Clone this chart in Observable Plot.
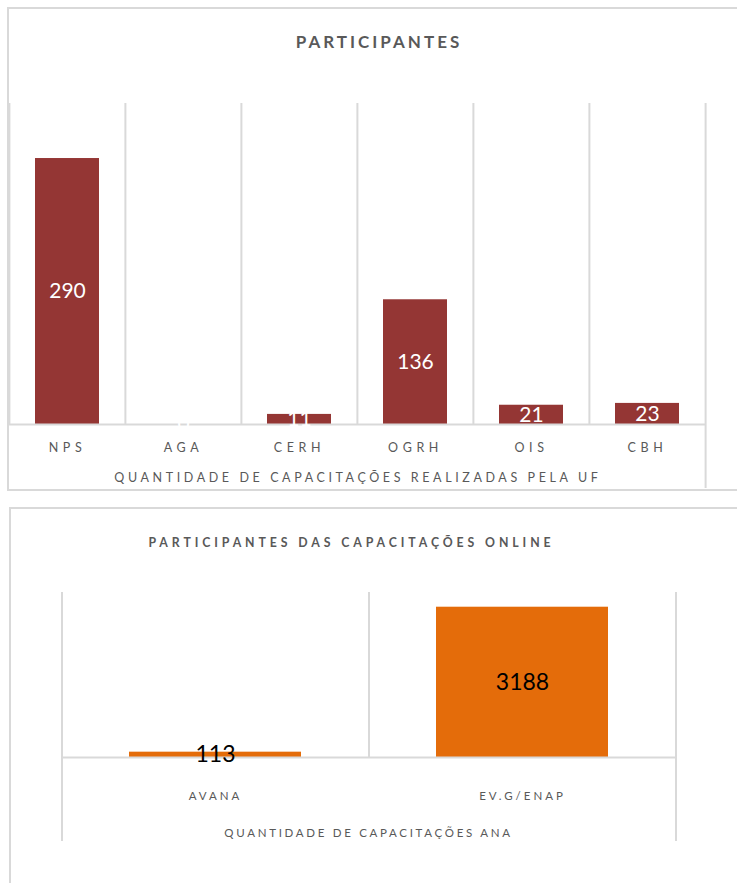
<!DOCTYPE html>
<html>
<head>
<meta charset="utf-8">
<script src="https://cdn.jsdelivr.net/npm/d3@7"></script>
<script src="https://cdn.jsdelivr.net/npm/@observablehq/plot@0.6"></script>
<style>
  html, body { margin: 0; padding: 0; background: #fff; overflow: hidden; width: 737px; height: 883px; }
  body { position: relative; font-family: Lato, "Open Sans", sans-serif; }
  .panel { position: absolute; border: 2px solid #d9d9d9; box-sizing: border-box; }
  .title { position: absolute; text-align: center; color: #595959; font-weight: bold; white-space: nowrap; }
  .chart { position: absolute; left: 0; }
  svg { font-family: Lato, "Open Sans", sans-serif; overflow: visible; }
</style>
</head>
<body>
<div class="panel" style="left:7px; top:7px; width:800px; height:484px;"></div>
<div class="panel" style="left:9px; top:507px; width:800px; height:420px;"></div>
<div class="title" id="t1" style="left:0; width:758px; top:31px; font-size:17px; line-height:22px; letter-spacing:3px;"></div>
<div class="title" id="t2" style="left:0; width:703px; top:535px; font-size:12.3px; line-height:16px; letter-spacing:3.9px;"></div>
<div class="chart" id="c1" style="top:0;"></div>
<div class="chart" id="c2" style="top:500px;"></div>
<script>
// ---- data ----
const title1 = "PARTICIPANTES";
const axisTitle1 = "QUANTIDADE DE CAPACITAÇÕES REALIZADAS PELA UF";
const cats1 = ["NPS", "AGA", "CERH", "OGRH", "OIS", "CBH"];
const vals1 = [290, 0, 11, 136, 21, 23];

const title2 = "PARTICIPANTES DAS CAPACITAÇÕES ONLINE";
const axisTitle2 = "QUANTIDADE DE CAPACITAÇÕES ANA";
const cats2 = ["AVANA", "EV.G/ENAP"];
const vals2 = [113, 3188];

const data1 = cats1.map((c, i) => ({cat: c, v: vals1[i]}));
const data2 = cats2.map((c, i) => ({cat: c, v: vals2[i]}));

document.getElementById("t1").textContent = title1;
document.getElementById("t2").textContent = title2;

const W = 737;
const GRID = "#d9d9d9";
const TXT = "#595959";

function spacing(svg, tickPx, titlePx) {
  d3.select(svg).selectAll('g[aria-label="x-axis tick label"] text').attr("letter-spacing", tickPx + "px");
  d3.select(svg).selectAll('g[aria-description="axis-title"] text').attr("letter-spacing", titlePx + "px");
}

// ---- chart 1 ----
{
  const mL = 8.7, mR = 31, mT = 103, mB = 76, H = 500;
  const yMax = 350;
  const step = (W - mL - mR) / cats1.length;
  const p = Plot.plot({
    width: W, height: H,
    marginLeft: mL, marginRight: mR, marginTop: mT, marginBottom: mB,
    x: {domain: cats1, paddingInner: 0.45, paddingOuter: 0.225, axis: null},
    y: {domain: [0, yMax], axis: null},
    marks: [
      Plot.ruleX(cats1, {x: d => d, y1: yMax, y2: 0, dx: -step / 2, stroke: GRID, strokeWidth: 2}),
      Plot.ruleX([cats1[cats1.length - 1]], {x: d => d, y1: yMax, y2: 0, dx: step / 2, insetBottom: -64, stroke: GRID, strokeWidth: 2}),
      Plot.barY(data1, {x: "cat", y: "v", fill: "#943634"}),
      Plot.ruleY([0], {stroke: GRID, strokeWidth: 2}),
      Plot.axisX({tickSize: 0, tickPadding: 19, fontSize: 12.5, color: TXT, label: null}),
      Plot.text(data1, {x: "cat", y: d => d.v / 2, text: d => String(d.v), fill: "white", fontSize: 21}),
      Plot.text([axisTitle1], {frameAnchor: "bottom", dy: 57, text: d => d, fill: TXT, fontSize: 12.5, ariaDescription: "axis-title"})
    ]
  });
  spacing(p, 4.6, 3.6);
  document.getElementById("c1").appendChild(p);
}

// ---- chart 2 ----
{
  const mL = 61, mR = 62, mT = 92, mB = 126, H = 383;
  const yMax = 3500;
  const step = (W - mL - mR) / cats2.length;
  const p = Plot.plot({
    width: W, height: H,
    marginLeft: mL, marginRight: mR, marginTop: mT, marginBottom: mB,
    x: {domain: cats2, paddingInner: 0.44, paddingOuter: 0.22, axis: null},
    y: {domain: [0, yMax], axis: null},
    marks: [
      Plot.ruleX([cats2[0]], {x: d => d, y1: yMax, y2: 0, dx: -step / 2, insetBottom: -84, stroke: GRID, strokeWidth: 2}),
      Plot.ruleX(cats2.slice(1), {x: d => d, y1: yMax, y2: 0, dx: -step / 2, stroke: GRID, strokeWidth: 2}),
      Plot.ruleX([cats2[cats2.length - 1]], {x: d => d, y1: yMax, y2: 0, dx: step / 2, insetBottom: -84, stroke: GRID, strokeWidth: 2}),
      Plot.barY(data2, {x: "cat", y: "v", fill: "#E46C0A"}),
      Plot.ruleY([0], {stroke: GRID, strokeWidth: 2}),
      Plot.axisX({tickSize: 0, tickPadding: 34, fontSize: 11.5, color: TXT, label: null}),
      Plot.text(data2, {x: "cat", y: d => d.v / 2, text: d => String(d.v), fill: "black", fontSize: 23}),
      Plot.text([axisTitle2], {frameAnchor: "bottom", dy: 79, text: d => d, fill: TXT, fontSize: 11.5, ariaDescription: "axis-title"})
    ]
  });
  spacing(p, 3.0, 2.7);
  document.getElementById("c2").appendChild(p);
}
</script>
</body>
</html>
